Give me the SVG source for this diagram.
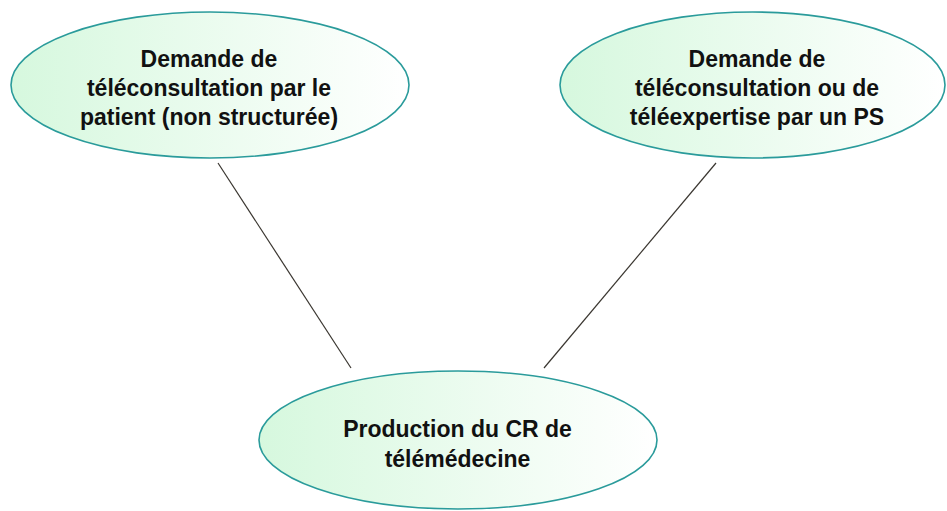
<svg xmlns="http://www.w3.org/2000/svg" width="947" height="511" viewBox="0 0 947 511">
<defs>
<linearGradient id="g" x1="0" y1="0" x2="1" y2="0">
<stop offset="0" stop-color="#d6f8de"/>
<stop offset="1" stop-color="#ffffff"/>
</linearGradient>
<style>
.n{fill:url(#g);stroke:#2a9b9b;stroke-width:1.6}
.t{font-family:"Liberation Sans",Arial,sans-serif;font-weight:bold;font-size:23px;fill:#111;text-anchor:middle}
.c{stroke:#3a3630;stroke-width:1.2;fill:none}
</style>
</defs>
<rect width="947" height="511" fill="#fff"/>
<g id="connectors">
<line class="c" x1="218" y1="163" x2="351" y2="368"/>
<line class="c" x1="716" y1="163" x2="544" y2="368"/>
</g>
<g id="n1">
<ellipse class="n" cx="210" cy="85" rx="199" ry="73"/>
<text class="t" x="209" y="67">Demande de</text>
<text class="t" x="209" y="96">téléconsultation par le</text>
<text class="t" x="209" y="125">patient (non structurée)</text>
</g>
<g id="n2">
<ellipse class="n" cx="752.5" cy="85" rx="192.5" ry="73"/>
<text class="t" x="757" y="67">Demande de</text>
<text class="t" x="757" y="96">téléconsultation ou de</text>
<text class="t" x="757" y="125">téléexpertise par un PS</text>
</g>
<g id="n3">
<ellipse class="n" cx="458" cy="440" rx="199" ry="69"/>
<text class="t" x="457.5" y="437">Production du CR de</text>
<text class="t" x="457.5" y="467">télémédecine</text>
</g>
</svg>
